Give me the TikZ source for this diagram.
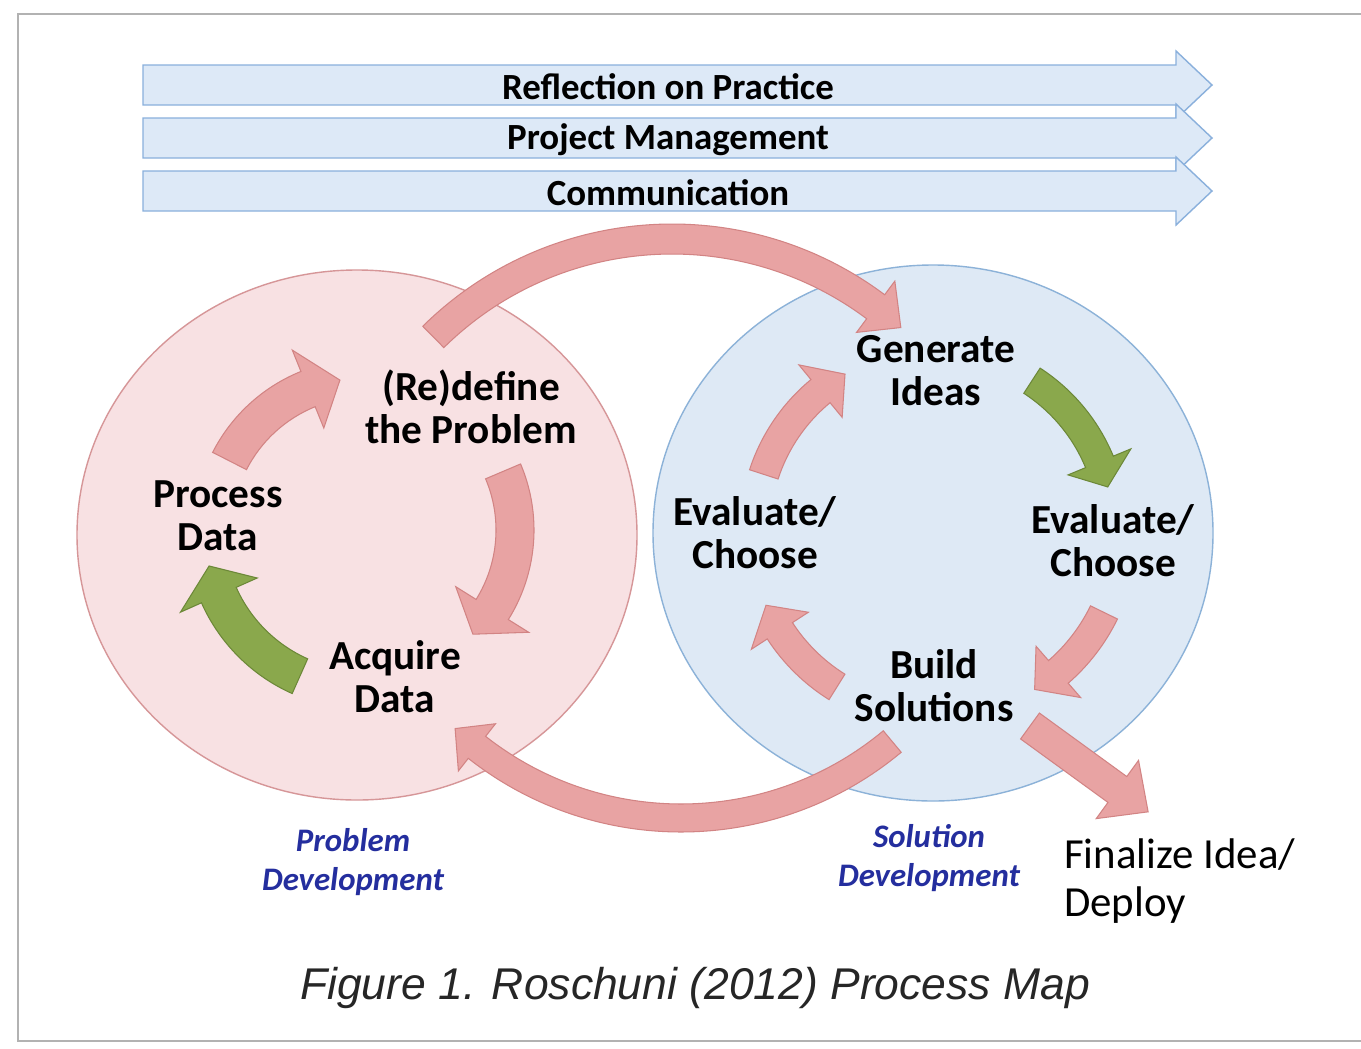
\documentclass[tikz,border=0pt]{standalone}
\usepackage{fontspec}
\setmainfont{Carlito}
\newfontfamily\captionfont{Liberation Sans}
\usetikzlibrary{calc}

\definecolor{pinkarrow}{RGB}{232,163,163}
\definecolor{pinkline}{RGB}{210,132,132}
\definecolor{greenarrow}{RGB}{138,168,76}
\definecolor{greenline}{RGB}{108,136,56}
\definecolor{leftfill}{RGB}{248,225,227}
\definecolor{leftline}{RGB}{214,150,152}
\definecolor{rightfill}{RGB}{222,233,245}
\definecolor{rightline}{RGB}{140,178,216}
\definecolor{bannerfill}{RGB}{221,233,247}
\definecolor{bannerline}{RGB}{138,176,220}
\definecolor{labelblue}{RGB}{36,46,158}

% curved block arrow: style, cx, cy, radius, tail angle, tip angle, shaft, head width, head angle
\newcommand{\bentarrow}[9]{%
  \pgfmathsetmacro{\rOut}{#4+#7/2}%
  \pgfmathsetmacro{\rIn}{#4-#7/2}%
  \pgfmathsetmacro{\rBarbOut}{#4+#8/2}%
  \pgfmathsetmacro{\rBarbIn}{#4-#8/2}%
  \pgfmathsetmacro{\aHead}{#6-#9}%
  \path[#1] ($(#2,#3)+(#5:\rOut)$) arc[start angle=#5, end angle=\aHead, radius=\rOut]
    -- ($(#2,#3)+(\aHead:\rBarbOut)$) -- ($(#2,#3)+(#6:#4)$)
    -- ($(#2,#3)+(\aHead:\rBarbIn)$) -- ($(#2,#3)+(\aHead:\rIn)$)
    arc[start angle=\aHead, end angle=#5, radius=\rIn] -- cycle;
}

\begin{document}
\begin{tikzpicture}[x=0.02cm, y=-0.02cm,
  redarrow/.style={fill=pinkarrow, draw=pinkline, line width=0.6pt},
  greenarr/.style={fill=greenarrow, draw=greenline, line width=0.6pt},
  banner/.style={fill=bannerfill, draw=bannerline, line width=0.8pt},
  bannertext/.style={font=\bfseries\fontsize{21}{24}\selectfont},
  lbl/.style={font=\bfseries\fontsize{23.5}{24.5}\selectfont, align=center},
  bluelbl/.style={font=\bfseries\itshape\fontsize{18.7}{22}\selectfont, align=center, text=labelblue},
  finaltext/.style={font=\fontsize{24.4}{27.3}\selectfont, align=left},
  captiontext/.style={font=\captionfont\itshape\fontsize{25.3}{28}\selectfont, text=black!85}
]
\useasboundingbox (0,0) rectangle (1361,1048);
\clip (0,0) rectangle (1361,1048);
\fill[white] (0,0) rectangle (1361,1048);
\draw[black!30, line width=1pt] (18,14) rectangle (1400,1041);

% banners
\foreach \y/\txt [count=\i] in {85/Reflection on Practice, 138/Project Management, 191/Communication}{
  \path[banner] (143,\y-20) -- (1176,\y-20) -- (1176,\y-34) -- (1212,\y)
    -- (1176,\y+34) -- (1176,\y+20) -- (143,\y+20) -- cycle;
  \node[bannertext] (band\i) at (668,\y+2) {\txt};
}

% the two circles
\path[draw=leftline, fill=leftfill, line width=0.8pt] (357,535) ellipse [x radius=280, y radius=265];
\path[draw=rightline, fill=rightfill, line width=0.8pt] (933,533) ellipse [x radius=280, y radius=268];

% problem cycle
\bentarrow{redarrow}{365}{530}{152}{207}{260.5}{38}{84}{12.5}
\bentarrow{redarrow}{365}{530}{150}{337}{404}{38}{86}{12}
\bentarrow{greenarr}{365}{530}{160}{114}{167}{38}{84}{11}

% solution cycle
\bentarrow{redarrow}{935}{530}{180}{198}{240}{30}{68}{9.5}
\bentarrow{greenarr}{935}{530}{178}{303}{346}{30}{68}{8.5}
\bentarrow{redarrow}{935}{530}{188}{26}{58}{30}{68}{9}
\bentarrow{redarrow}{935}{530}{185}{122}{156}{30}{68}{9}

% big arcs between the circles
\bentarrow{redarrow}{672}{579}{340}{225.4}{312.3}{30}{64}{5.5}
\bentarrow{redarrow}{681}{488}{330}{50.2}{133.2}{28}{60}{5}

% labels
\node[lbl] (redefine) at (471,407) {(Re)define\\the Problem};
\node[lbl] (process) at (218,516) {Process\\Data};
\node[lbl] (acquire) at (395,677) {Acquire\\Data};
\node[lbl] (generate) at (936,371) {Generate\\Ideas};
\node[lbl] (evalleft) at (755,533) {Evaluate/\\Choose};
\node[lbl] (evalright) at (1113,541) {Evaluate/\\Choose};
\node[lbl] (build) at (934,686) {Build\\Solutions};

% finalize arrow
\path[redarrow] ($(1030,726)+(126:16)$) -- ++(36:108) -- ++(126:20) -- ($(1030,726)+(36:146)$)
  -- ($(1030,726)+(36:108)+(306:36)$) -- ++(126:20) -- ($(1030,726)+(306:16)$) -- cycle;

\node[bluelbl] (probdev) at (353,862) {Problem\\Development};
\node[bluelbl] (soldev) at (929,858) {Solution\\Development};
\node[finaltext, anchor=west] (finalize) at (1058,881) {Finalize Idea/\\Deploy};
\node[captiontext] (caption) at (695,988) {Figure 1. Roschuni (2012) Process Map};
\end{tikzpicture}
\end{document}
